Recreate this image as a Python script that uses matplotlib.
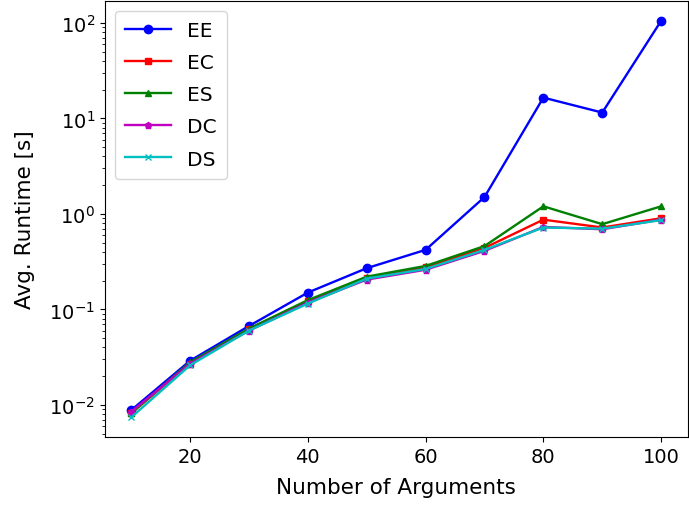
import matplotlib
matplotlib.use("Agg")
import matplotlib.pyplot as plt

# number of arguments
n_args = [10, 20, 30, 40, 50, 60, 70, 80, 90, 100]

# average runtime per method (seconds)
ee = [0.0088, 0.029, 0.067, 0.15, 0.27, 0.42, 1.5, 16.5, 11.5, 105]
ec = [0.0082, 0.027, 0.062, 0.122, 0.215, 0.275, 0.44, 0.87, 0.72, 0.9]
es = [0.0082, 0.028, 0.063, 0.125, 0.22, 0.285, 0.46, 1.2, 0.78, 1.2]
dc = [0.0085, 0.027, 0.060, 0.118, 0.205, 0.26, 0.41, 0.73, 0.69, 0.87]
ds = [0.0074, 0.026, 0.060, 0.115, 0.21, 0.265, 0.42, 0.72, 0.70, 0.86]

plt.rcParams["font.size"] = 14

fig = plt.figure(figsize=(6.89, 5.06), dpi=100)
ax = fig.add_axes([0.152, 0.134, 0.846, 0.862])
ax.plot(n_args, ee, "b-o", lw=1.7, label="EE")
ax.plot(n_args, ec, "r-s", lw=1.7, markersize=5, label="EC")
ax.plot(n_args, es, "g-^", lw=1.7, markersize=5, label="ES")
ax.plot(n_args, dc, "m-p", lw=1.7, markersize=5, label="DC")
ax.plot(n_args, ds, "c-x", lw=1.7, markersize=5, label="DS")

ax.set_yscale("log")
ax.set_xlabel("Number of Arguments", fontsize=15.5, labelpad=8)
ax.set_ylabel("Avg. Runtime [s]", fontsize=15.5, labelpad=10)
ax.legend(loc="upper left", fontsize=14.5, labelspacing=0.65, handlelength=2.3,
          handletextpad=0.8, borderpad=0.5)

plt.savefig("out.png")
